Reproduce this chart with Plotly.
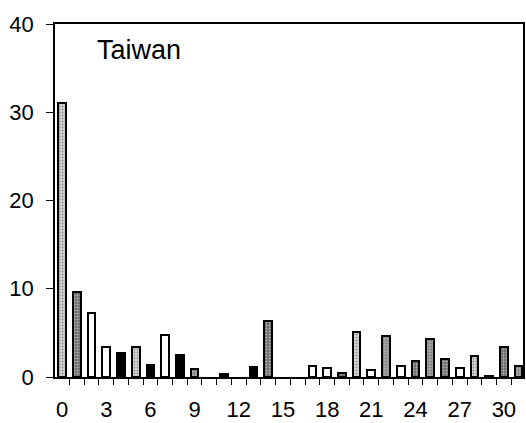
import plotly.graph_objects as go

# Counts per position (0..31)
positions = list(range(32))
values = [31.0, 9.6, 7.3, 3.4, 2.7, 3.4, 1.4, 4.75, 2.45, 0.95,
          0.0, 0.35, 0.0, 1.15, 6.3, 0.0, 0.0, 1.2, 1.0, 0.45,
          5.15, 0.75, 4.6, 1.25, 1.8, 4.35, 2.05, 1.0, 2.35, 0.1,
          3.35, 1.3]
x_tick_values = list(range(0, 31, 3))
x_tick_labels = [str(v) for v in x_tick_values]
y_tick_values = [0, 10, 20, 30, 40]

# Fill style of each bar: L light stipple, M medium stipple, D dark stipple, W white, B black
shades = ["L", "D", "W", "W", "B", "L", "B", "W", "B", "M",
          "W", "B", "W", "B", "D", "W", "W", "W", "W", "D",
          "L", "W", "M", "W", "D", "M", "D", "W", "L", "W",
          "D", "M"]
shade_color = {"L": "#d8d8d8", "M": "#a8a8a8", "D": "#6a6a6a", "W": "#ffffff", "B": "#000000"}
shade_pattern = {"L": ".", "M": ".", "D": ".", "W": "", "B": ""}

# empty positions get no outline
outline_widths = [2 if v > 0 else 0 for v in values]

fig = go.Figure(go.Bar(
    x=positions,
    y=values,
    width=0.52,
    marker=dict(
        color=[shade_color[s] for s in shades],
        line=dict(color="#000000", width=outline_widths),
        pattern=dict(
            shape=[shade_pattern[s] for s in shades],
            fillmode="overlay",
            fgcolor="#222222",
            size=3,
            solidity=0.35,
        ),
    ),
))

font = dict(family="Liberation Sans, Arial, sans-serif", size=22, color="#000000")

fig.update_layout(
    width=526,
    height=423,
    margin=dict(l=55, r=1, t=24, b=45),
    paper_bgcolor="white",
    plot_bgcolor="white",
    showlegend=False,
    bargap=0,
    font=font,
    annotations=[dict(
        text="Taiwan", xref="paper", yref="paper",
        x=0.085, y=0.925, xanchor="left", yanchor="middle",
        showarrow=False, font=dict(family="Liberation Sans, Arial, sans-serif", size=27, color="#000000"),
    )],
)

fig.update_xaxes(
    range=[-0.48, 31.3],
    tickmode="array",
    tickvals=x_tick_values,
    ticktext=x_tick_labels,
    ticks="",
    ticklabelstandoff=12,
    showgrid=False,
    zeroline=False,
    showline=True,
    linecolor="#000000",
    linewidth=1.5,
    mirror=True,
    minor=dict(tick0=-0.5, dtick=1, ticks="outside", ticklen=6, tickcolor="#000000", tickwidth=1.2, showgrid=False),
    tickfont=font,
)

fig.update_yaxes(
    range=[0, 40],
    tickmode="array",
    tickvals=y_tick_values,
    ticks="outside",
    ticklen=7,
    tickwidth=1.2,
    tickcolor="#000000",
    ticklabelstandoff=8,
    showgrid=False,
    zeroline=False,
    showline=True,
    linecolor="#000000",
    linewidth=1.5,
    mirror=True,
    tickfont=font,
)

fig.write_html("out.html")
